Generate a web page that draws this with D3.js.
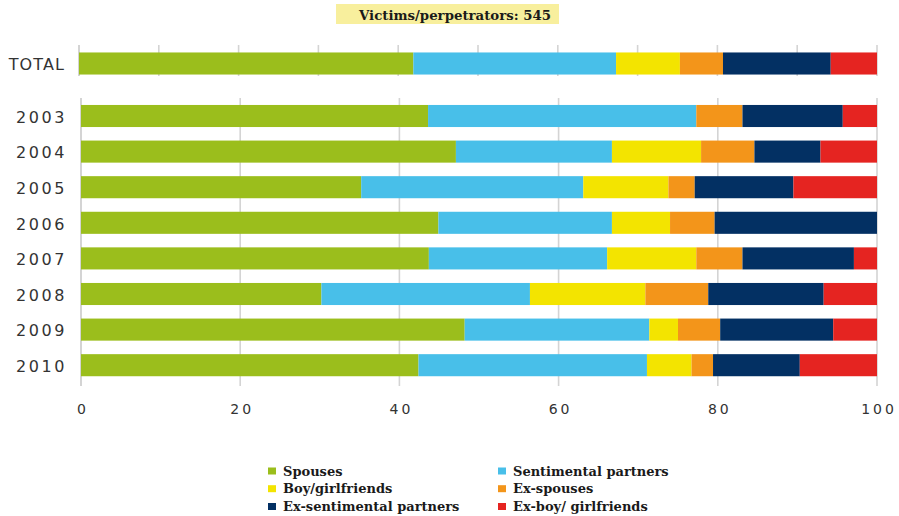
<!DOCTYPE html>
<html>
<head>
<meta charset="utf-8">
<script src="https://cdn.jsdelivr.net/npm/d3@7"></script>
<style>
  html, body { margin: 0; padding: 0; background: #fff; }
  svg { display: block; }
</style>
</head>
<body>
<svg id="chart" width="899" height="516"></svg>
<script>
// Relationship between victim and perpetrator, share of cases (%)
const seriesNames = ["Spouses", "Sentimental partners", "Boy/girlfriends",
                     "Ex-spouses", "Ex-sentimental partners", "Ex-boy/ girlfriends"];
const seriesColors = ["#9bbe1c", "#48bfe9", "#f3e400", "#f3951a", "#033063", "#e52421"];

const totalLabel = "TOTAL";
const totalValues = [41.9, 25.4, 8.0, 5.4, 13.5, 5.8];

const years = ["2003", "2004", "2005", "2006", "2007", "2008", "2009", "2010"];
const spouses      = [43.6, 47.1, 35.2, 44.9, 43.7, 30.2, 48.2, 42.4];
const sentimental  = [33.7, 19.6, 27.9, 21.8, 22.4, 26.2, 23.2, 28.7];
const boyGirl      = [ 0.0, 11.2, 10.7,  7.3, 11.2, 14.5,  3.6,  5.6];
const exSpouses    = [ 5.8,  6.7,  3.3,  5.6,  5.8,  7.9,  5.3,  2.7];
const exSentiment  = [12.6,  8.3, 12.4, 20.4, 14.0, 14.5, 14.2, 10.9];
const exBoyGirl    = [ 4.3,  7.1, 10.5,  0.0,  2.9,  6.7,  5.5,  9.7];

const xTicks = [0, 20, 40, 60, 80, 100];
const totalGridTicks = [0, 10, 20, 30, 40, 50, 60, 70, 80, 90, 100];
const titleText = "Victims/perpetrators: 545";

const svg = d3.select("#chart");
const labelFont = "'DejaVu Sans', sans-serif";
const serifFont = "'DejaVu Serif', Georgia, serif";

// Build stacked rows
const keys = seriesNames;
const yearRows = years.map((y, i) => {
  const vals = [spouses[i], sentimental[i], boyGirl[i], exSpouses[i], exSentiment[i], exBoyGirl[i]];
  const row = { label: y };
  keys.forEach((k, j) => row[k] = vals[j]);
  return row;
});
const totalRow = { label: totalLabel };
keys.forEach((k, j) => totalRow[k] = totalValues[j]);

const stack = d3.stack().keys(keys);
const yearStack = stack(yearRows);
const totalStack = stack([totalRow]);
const color = d3.scaleOrdinal().domain(keys).range(seriesColors);

// Scales
const xTotal = d3.scaleLinear().domain([0, 100]).range([79, 877]);
const xYear = d3.scaleLinear().domain([0, 100]).range([81, 877]);
const yTotal = d3.scaleBand().domain([totalLabel]).range([45.7, 81.3])
  .paddingInner(0.38).paddingOuter(0.19);
const yYear = d3.scaleBand().domain(years).range([98.2, 383])
  .paddingInner(0.38).paddingOuter(0.19);

const gridColor = "#d4d4d4";

// Grid for the TOTAL block
svg.append("g").selectAll("line").data(totalGridTicks).join("line")
  .attr("x1", d => xTotal(d)).attr("x2", d => xTotal(d))
  .attr("y1", 45).attr("y2", 76)
  .attr("stroke", gridColor).attr("stroke-width", d => d === 0 ? 2 : 1.6);

// Grid for the yearly block
svg.append("g").selectAll("line").data(xTicks).join("line")
  .attr("x1", d => xYear(d)).attr("x2", d => xYear(d))
  .attr("y1", 98).attr("y2", 386)
  .attr("stroke", gridColor).attr("stroke-width", d => d === 0 ? 2 : 1.6);

// TOTAL bar
svg.append("g").selectAll("rect").data(totalStack).join("rect")
  .attr("x", d => xTotal(d[0][0]))
  .attr("width", d => xTotal(d[0][1]) - xTotal(d[0][0]))
  .attr("y", yTotal(totalLabel))
  .attr("height", yTotal.bandwidth())
  .attr("fill", d => color(d.key));

// Yearly bars
svg.append("g").selectAll("g").data(yearStack).join("g")
  .attr("fill", d => color(d.key))
  .selectAll("rect").data(d => d).join("rect")
  .attr("x", d => xYear(d[0]))
  .attr("width", d => xYear(d[1]) - xYear(d[0]))
  .attr("y", d => yYear(d.data.label))
  .attr("height", yYear.bandwidth());

// Row labels (letter-spacing leaves a trailing gap, so padding is reduced)
const yAxisYears = d3.axisLeft(yYear).tickSize(0).tickPadding(14);
const gy = svg.append("g").attr("transform", `translate(${xYear(0)},0)`).call(yAxisYears);
gy.select(".domain").remove();
gy.selectAll("text")
  .attr("font-family", labelFont).attr("font-size", 16).attr("dy", "0.42em")
  .attr("letter-spacing", 2.6).attr("fill", "#333");

const yAxisTotal = d3.axisLeft(yTotal).tickSize(0).tickPadding(14);
const gt = svg.append("g").attr("transform", `translate(${xTotal(0)},0)`).call(yAxisTotal);
gt.select(".domain").remove();
gt.selectAll("text")
  .attr("font-family", labelFont).attr("font-size", 16).attr("dy", "0.4em")
  .attr("letter-spacing", 1.1).attr("fill", "#333");

// Bottom axis labels
const xAxis = d3.axisBottom(xYear).tickValues(xTicks).tickSize(0).tickPadding(18);
const gx = svg.append("g").attr("transform", "translate(0,386)").call(xAxis);
gx.select(".domain").remove();
gx.selectAll("text")
  .attr("font-family", labelFont).attr("font-size", 14).attr("dx", 1.5)
  .attr("letter-spacing", 3).attr("fill", "#333");

// Title with highlight box
svg.append("rect")
  .attr("x", 336).attr("y", 4).attr("width", 223).attr("height", 20)
  .attr("fill", "#f8ef9d");
svg.append("text")
  .attr("x", 455).attr("y", 20)
  .attr("text-anchor", "middle")
  .attr("font-family", serifFont).attr("font-weight", "bold")
  .attr("font-size", 13.3).attr("fill", "#1a1a1a")
  .text(titleText);

// Legend: two columns, three rows
const legendCols = [268, 498];
const legendRows = [475.5, 493.2, 511];
const legend = svg.append("g").selectAll("g").data(keys).join("g")
  .attr("transform", (d, i) => `translate(${legendCols[i % 2]},${legendRows[Math.floor(i / 2)]})`);
legend.append("rect")
  .attr("x", 0).attr("y", -8).attr("width", 8).attr("height", 7)
  .attr("fill", d => color(d));
legend.append("text")
  .attr("x", 15).attr("y", 0)
  .attr("font-family", serifFont).attr("font-weight", "bold")
  .attr("font-size", 13).attr("fill", "#1a1a1a")
  .text(d => d);
</script>
</body>
</html>
